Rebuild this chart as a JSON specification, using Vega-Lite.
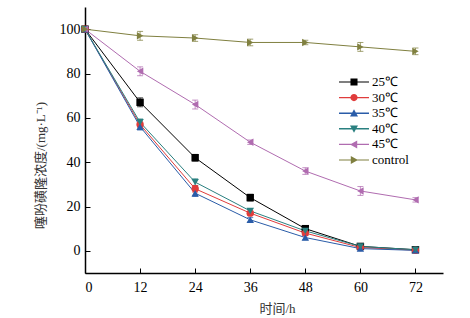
{
  "$schema": "https://vega.github.io/schema/vega-lite/v6.json",
  "width": 358,
  "height": 266,
  "autosize": "none",
  "padding": {"left": 85, "top": 7, "right": 27, "bottom": 45},
  "background": "white",
  "config": {
    "view": {"stroke": null},
    "font": "Liberation Serif, serif",
    "axis": {
      "grid": false,
      "domainColor": "black",
      "domainWidth": 1.5,
      "tickColor": "black",
      "tickSize": -5,
      "labelFont": "Liberation Serif, serif",
      "labelFontSize": 14,
      "labelColor": "black",
      "titleFont": "Liberation Serif, Noto Sans CJK SC",
      "titleFontSize": 13,
      "titleFontWeight": "normal",
      "titleColor": "#333"
    }
  },
  "data": {
    "values": [
      {"series": "25℃", "t": 0, "c": 100, "err": 1},
      {"series": "25℃", "t": 12, "c": 67, "err": 2},
      {"series": "25℃", "t": 24, "c": 42, "err": 1.5},
      {"series": "25℃", "t": 36, "c": 24, "err": 1.5},
      {"series": "25℃", "t": 48, "c": 10, "err": 1},
      {"series": "25℃", "t": 60, "c": 2, "err": 1},
      {"series": "25℃", "t": 72, "c": 0.5, "err": 0.5},
      {"series": "30℃", "t": 0, "c": 100, "err": 1},
      {"series": "30℃", "t": 12, "c": 57, "err": 1.5},
      {"series": "30℃", "t": 24, "c": 28, "err": 1.5},
      {"series": "30℃", "t": 36, "c": 17, "err": 1},
      {"series": "30℃", "t": 48, "c": 8, "err": 1},
      {"series": "30℃", "t": 60, "c": 1.5, "err": 0.5},
      {"series": "30℃", "t": 72, "c": 0.3, "err": 0.5},
      {"series": "35℃", "t": 0, "c": 100, "err": 1},
      {"series": "35℃", "t": 12, "c": 56, "err": 1.5},
      {"series": "35℃", "t": 24, "c": 26, "err": 1.5},
      {"series": "35℃", "t": 36, "c": 14, "err": 1},
      {"series": "35℃", "t": 48, "c": 6, "err": 1},
      {"series": "35℃", "t": 60, "c": 1, "err": 0.5},
      {"series": "35℃", "t": 72, "c": 0.2, "err": 0.5},
      {"series": "40℃", "t": 0, "c": 100, "err": 1},
      {"series": "40℃", "t": 12, "c": 58, "err": 1.5},
      {"series": "40℃", "t": 24, "c": 31, "err": 1.5},
      {"series": "40℃", "t": 36, "c": 18, "err": 1},
      {"series": "40℃", "t": 48, "c": 9, "err": 1},
      {"series": "40℃", "t": 60, "c": 2, "err": 0.5},
      {"series": "40℃", "t": 72, "c": 0.5, "err": 0.5},
      {"series": "45℃", "t": 0, "c": 100, "err": 1},
      {"series": "45℃", "t": 12, "c": 81, "err": 2},
      {"series": "45℃", "t": 24, "c": 66, "err": 2},
      {"series": "45℃", "t": 36, "c": 49, "err": 1},
      {"series": "45℃", "t": 48, "c": 36, "err": 1.5},
      {"series": "45℃", "t": 60, "c": 27, "err": 2},
      {"series": "45℃", "t": 72, "c": 23, "err": 1},
      {"series": "control", "t": 0, "c": 100, "err": 1},
      {"series": "control", "t": 12, "c": 97, "err": 2},
      {"series": "control", "t": 24, "c": 96, "err": 1.5},
      {"series": "control", "t": 36, "c": 94, "err": 1.5},
      {"series": "control", "t": 48, "c": 94, "err": 1},
      {"series": "control", "t": 60, "c": 92, "err": 2},
      {"series": "control", "t": 72, "c": 90, "err": 1.5}
    ]
  },
  "encoding": {
    "x": {
      "field": "t", "type": "quantitative",
      "scale": {"domain": [0, 78], "nice": false, "zero": false},
      "axis": {"values": [0, 12, 24, 36, 48, 60, 72], "title": "时间/h", "labelPadding": 12, "titleX": 192, "titleY": 35, "titleBaseline": "middle"}
    },
    "y": {
      "field": "c", "type": "quantitative",
      "scale": {"domain": [-10, 110], "nice": false, "zero": false},
      "axis": {"values": [0, 20, 40, 60, 80, 100], "title": "噻吩磺隆浓度/(mg·L⁻¹)", "labelPadding": 10, "titleX": -45, "titleY": 158, "titleAngle": -90, "titleAlign": "center", "titleBaseline": "middle"}
    }
  },
  "layer": [
    {
      "mark": {"type": "errorbar", "ticks": {"size": 6}, "opacity": 0.75},
      "encoding": {
        "y": {"field": "c", "type": "quantitative"},
        "yError": {"field": "err"},
        "color": {"field": "series", "type": "nominal", "legend": null,
          "scale": {"domain": ["25℃", "30℃", "35℃", "40℃", "45℃", "control"], "range": ["#000000", "#e03c3c", "#2a5ca8", "#2a8080", "#b06cb0", "#808040"]}}
      }
    },
    {
      "mark": {"type": "line", "strokeWidth": 1},
      "encoding": {
        "color": {"field": "series", "type": "nominal", "legend": null,
          "scale": {"domain": ["25℃", "30℃", "35℃", "40℃", "45℃", "control"], "range": ["#000000", "#e03c3c", "#2a5ca8", "#2a8080", "#b06cb0", "#808040"]}}
      }
    },
    {
      "mark": {"type": "point", "filled": true, "opacity": 1, "size": 55},
      "encoding": {
        "color": {"field": "series", "type": "nominal", "legend": null,
          "scale": {"domain": ["25℃", "30℃", "35℃", "40℃", "45℃", "control"], "range": ["#000000", "#e03c3c", "#2a5ca8", "#2a8080", "#b06cb0", "#808040"]}},
        "shape": {"field": "series", "type": "nominal", "legend": null,
          "scale": {"domain": ["25℃", "30℃", "35℃", "40℃", "45℃", "control"], "range": ["square", "circle", "triangle-up", "triangle-down", "triangle-left", "triangle-right"]}}
      }
    },
    {
      "mark": {"type": "point", "filled": true, "opacity": 0, "size": 256},
      "encoding": {
        "color": {"field": "series", "type": "nominal",
          "scale": {"domain": ["25℃", "30℃", "35℃", "40℃", "45℃", "control"], "range": ["#000000", "#e03c3c", "#2a5ca8", "#2a8080", "#b06cb0", "#808040"]},
          "legend": {"title": null, "orient": "none", "legendX": 261, "legendY": 67, "symbolOpacity": 1, "symbolSize": 256, "symbolStrokeWidth": 0, "labelFontSize": 13, "labelFont": "Liberation Serif, serif", "labelColor": "black", "labelOffset": 10, "rowPadding": 0.6}},
        "shape": {"field": "series", "type": "nominal",
          "scale": {"domain": ["25℃", "30℃", "35℃", "40℃", "45℃", "control"], "range": [
            "M-1.875,-0.07H1.875V0.07H-1.875Z M-0.44,-0.44H0.44V0.44H-0.44Z",
            "M-1.875,-0.07H1.875V0.07H-1.875Z M-0.45,0A0.45,0.45 0 1,1 0.45,0A0.45,0.45 0 1,1 -0.45,0Z",
            "M-1.875,-0.09H1.875V0.09H-1.875Z M0,-0.5L0.5,0.4H-0.5Z",
            "M-1.875,-0.09H1.875V0.09H-1.875Z M0,0.5L-0.5,-0.4H0.5Z",
            "M-1.875,-0.09H1.875V0.09H-1.875Z M-0.5,0L0.4,-0.5V0.5Z",
            "M-1.875,-0.06H1.875V0.06H-1.875Z M0.5,0L-0.4,0.5V-0.5Z"
          ]},
          "legend": {"title": null, "orient": "none", "legendX": 261, "legendY": 67, "symbolOpacity": 1, "symbolSize": 256, "symbolStrokeWidth": 0, "labelFontSize": 13, "labelFont": "Liberation Serif, serif", "labelColor": "black", "labelOffset": 10, "rowPadding": 0.6}}
      }
    }
  ],
  "resolve": {"scale": {"shape": "independent", "color": "independent"}}
}
